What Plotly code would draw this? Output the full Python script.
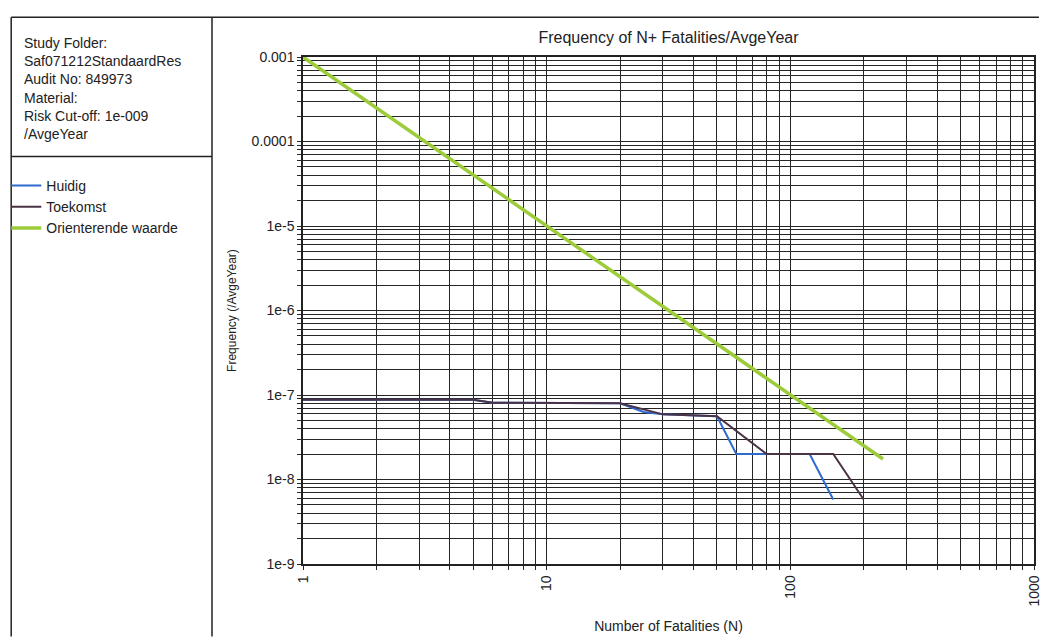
import plotly.graph_objects as go

# ---- data ----
huidig_n = [1, 5, 6, 20, 25, 30, 50, 60, 80, 120, 150]
huidig_f = [8.8e-8, 8.8e-8, 8.1e-8, 8.0e-8, 6.3e-8, 5.9e-8, 5.6e-8, 2.0e-8, 2.0e-8, 2.0e-8, 5.8e-9]

toekomst_n = [1, 5, 6, 20, 30, 50, 80, 150, 200]
toekomst_f = [8.8e-8, 8.8e-8, 8.1e-8, 8.0e-8, 5.9e-8, 5.6e-8, 2.0e-8, 2.0e-8, 5.8e-9]

orient_n = [1, 240]
orient_f = [1e-3, 1.75e-8]

x_tickvals = [1, 2, 3, 4, 5, 6, 7, 8, 9,
              10, 20, 30, 40, 50, 60, 70, 80, 90,
              100, 200, 300, 400, 500, 600, 700, 800, 900, 1000]
x_ticktext = ["1", "", "", "", "", "", "", "", "",
              "10", "", "", "", "", "", "", "", "",
              "100", "", "", "", "", "", "", "", "", "1000"]

y_decades = [1e-9, 1e-8, 1e-7, 1e-6, 1e-5, 1e-4, 1e-3]
y_decade_labels = ["1e-9", "1e-8", "1e-7", "1e-6", "1e-5", "0.0001", "0.001"]
y_minor_mult = [2, 3, 4, 5, 6, 7, 8, 9]

info_lines = ["Study Folder:", "Saf071212StandaardRes", "Audit No: 849973",
              "Material:", "Risk Cut-off: 1e-009", "/AvgeYear"]

# build y ticks (decades labelled, 2..9 minor unlabelled)
y_tickvals, y_ticktext = [], []
for i, d in enumerate(y_decades):
    y_tickvals.append(d)
    y_ticktext.append(y_decade_labels[i])
    if i < len(y_decades) - 1:
        for m in y_minor_mult:
            y_tickvals.append(d * m)
            y_ticktext.append("")

FONT = "Liberation Sans, Arial, sans-serif"
GRID = "#262626"

fig = go.Figure()
fig.add_trace(go.Scatter(x=huidig_n, y=huidig_f, mode="lines", name="Huidig",
                         line=dict(color="#2f6ad0", width=2)))
fig.add_trace(go.Scatter(x=toekomst_n, y=toekomst_f, mode="lines", name="Toekomst",
                         line=dict(color="#4a3346", width=2)))
fig.add_trace(go.Scatter(x=orient_n, y=orient_f, mode="lines", name="Orienterende waarde",
                         line=dict(color="#9ccc3a", width=3.5)))

fig.update_layout(
    width=1048, height=638,
    margin=dict(l=303, r=6, t=57, b=71),
    paper_bgcolor="white", plot_bgcolor="white",
    font=dict(family=FONT, size=14, color="#222"),
    title=dict(text="Frequency of N+ Fatalities/AvgeYear", x=0.5, xref="paper",
               y=1 - 37 / 638, yanchor="middle", font=dict(size=16, color="#222")),
    showlegend=True,
    legend=dict(xref="container", yref="container", x=0.006, y=1 - 170 / 638,
                xanchor="left", yanchor="top", bgcolor="rgba(0,0,0,0)",
                font=dict(size=14, color="#222"), tracegroupgap=0),
)

fig.update_xaxes(
    type="log", range=[0, 3],
    tickmode="array", tickvals=x_tickvals, ticktext=x_ticktext,
    tickangle=-90, ticks="outside", ticklen=4, tickcolor=GRID,
    showgrid=True, gridcolor=GRID, gridwidth=1,
    showline=True, linecolor="#222", linewidth=1.5, mirror=True,
    zeroline=False,
    title=dict(text="Number of Fatalities (N)", font=dict(size=14), standoff=16),
    tickfont=dict(size=14),
)
fig.update_yaxes(
    type="log", range=[-9, -3],
    tickmode="array", tickvals=y_tickvals, ticktext=y_ticktext,
    ticks="outside", ticklen=4, tickcolor=GRID,
    showgrid=True, gridcolor=GRID, gridwidth=1,
    showline=True, linecolor="#222", linewidth=1.5, mirror=True,
    zeroline=False,
    title=dict(text="Frequency (/AvgeYear)", font=dict(size=12), standoff=12),
    tickfont=dict(size=14),
)

# page frame and left info panel
def px(xp):
    return (xp - 303) / 739

def py(yp):
    return (567 - yp) / 510

frame = dict(color="#222", width=1.5)
fig.add_shape(type="line", xref="paper", yref="paper", x0=px(8), x1=px(1047), y0=py(17), y1=py(17), line=frame)
fig.add_shape(type="line", xref="paper", yref="paper", x0=px(8), x1=px(8), y0=py(17), y1=py(640), line=frame)
fig.add_shape(type="line", xref="paper", yref="paper", x0=px(211), x1=px(211), y0=py(17), y1=py(640), line=frame)
fig.add_shape(type="line", xref="paper", yref="paper", x0=px(8), x1=px(211), y0=py(157), y1=py(157), line=frame)

fig.add_annotation(xref="paper", yref="paper", x=px(19), y=py(33), xanchor="left", yanchor="top",
                   align="left", showarrow=False, text="<br>".join(info_lines),
                   font=dict(size=14, color="#222"))

fig.write_html("out.html", config={"displayModeBar": False},
               post_script="document.body.style.margin='0';document.body.style.overflow='hidden';")
